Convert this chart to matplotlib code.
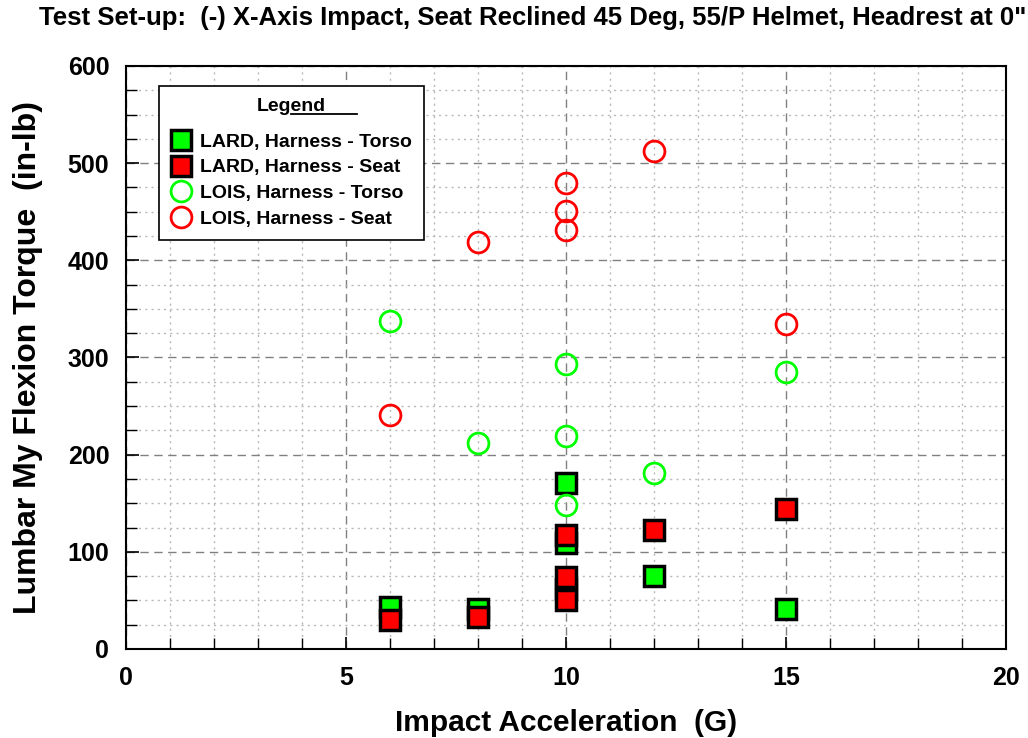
import matplotlib
matplotlib.use("Agg")
import matplotlib.pyplot as plt
from matplotlib.ticker import MultipleLocator
from matplotlib.lines import Line2D

plt.rcParams['font.family'] = ['Liberation Sans', 'DejaVu Sans']
plt.rcParams['font.weight'] = 'bold'

lard_torso_x = [6, 8, 10, 10, 10, 12, 15]
lard_torso_y = [43, 41, 171, 109, 62, 75, 41]
lard_seat_x = [6, 8, 10, 10, 10, 12, 15]
lard_seat_y = [30, 33, 117, 74, 50, 122, 144]
lois_torso_x = [6, 8, 10, 10, 10, 12, 15]
lois_torso_y = [338, 212, 293, 219, 148, 181, 285]
lois_seat_x = [6, 8, 10, 10, 10, 12, 15]
lois_seat_y = [241, 419, 480, 451, 431, 513, 334]

labels = ["LARD, Harness - Torso", "LARD, Harness - Seat",
          "LOIS, Harness - Torso", "LOIS, Harness - Seat"]

fig = plt.figure(figsize=(10.28, 7.38), dpi=100)
ax = fig.add_axes([0.1226, 0.1206, 0.856, 0.79])

ax.plot(lard_torso_x, lard_torso_y, ls='none', marker='s', ms=14, mfc='#00ff00',
        mec='black', mew=2.5, label=labels[0], zorder=3)
ax.plot(lard_seat_x, lard_seat_y, ls='none', marker='s', ms=14, mfc='#ff0000',
        mec='black', mew=2.5, label=labels[1], zorder=3)
ax.plot(lois_torso_x, lois_torso_y, ls='none', marker='o', ms=15, mfc='none',
        mec='#00ff00', mew=2, label=labels[2], zorder=3)
ax.plot(lois_seat_x, lois_seat_y, ls='none', marker='o', ms=15, mfc='none',
        mec='#ff0000', mew=2, label=labels[3], zorder=3)

ax.set_xlim(0, 20)
ax.set_ylim(0, 600)
ax.xaxis.set_major_locator(MultipleLocator(5))
ax.xaxis.set_minor_locator(MultipleLocator(1))
ax.yaxis.set_major_locator(MultipleLocator(100))
ax.yaxis.set_minor_locator(MultipleLocator(25))
ax.grid(which='major', ls=(0, (6, 4)), color='#808080', lw=1)
ax.grid(which='minor', ls=(0, (1.5, 3)), color='#b8b8b8', lw=1)
ax.set_axisbelow(True)
for s in ax.spines.values():
    s.set_linewidth(1.5)
ax.tick_params(which='major', direction='in', length=9, width=1.2, labelsize=18, pad=12)
ax.tick_params(which='minor', direction='in', length=8, width=1)
for t in ax.get_xticklabels() + ax.get_yticklabels():
    t.set_fontweight('bold')

ax.set_xlabel("Impact Acceleration  (G)", fontsize=21.5, fontweight='bold')
ax.set_ylabel("Lumbar My Flexion Torque  (in-lb)", fontsize=23, fontweight='bold')
ax.xaxis.set_label_coords(0.5, -0.103)
ax.yaxis.set_label_coords(-0.094, 0.5)
fig.text(0.518, 0.975, 'Test Set-up:  (-) X-Axis Impact, Seat Reclined 45 Deg, 55/P Helmet, Headrest at 0"',
         ha='center', va='center', fontsize=18.5, fontweight='bold')

leg = ax.legend(loc='upper left', bbox_to_anchor=(0.037, 0.965), title="Legend",
                fontsize=14, title_fontproperties={'weight': 'bold', 'size': 14},
                frameon=True, fancybox=False, edgecolor='black', framealpha=1,
                handletextpad=0.45, borderpad=0.6, labelspacing=0.42, handlelength=1.1,
                borderaxespad=0)
leg.get_frame().set_linewidth(1.2)
leg._legend_box.sep = 13
for t in leg.get_texts():
    t.set_fontweight('bold')

fig.canvas.draw()
bb = leg.get_title().get_window_extent()
inv = fig.transFigure.inverted()
x0 = bb.x0 + bb.width * 0.5
x1 = bb.x1 + bb.width * 0.45
y = bb.y0 + 1
(fx0, fy), (fx1, _) = inv.transform([(x0, y), (x1, y)])
fig.add_artist(Line2D([fx0, fx1], [fy, fy], color='black', lw=1.3, transform=fig.transFigure))

fig.savefig("out.png", dpi=100)
